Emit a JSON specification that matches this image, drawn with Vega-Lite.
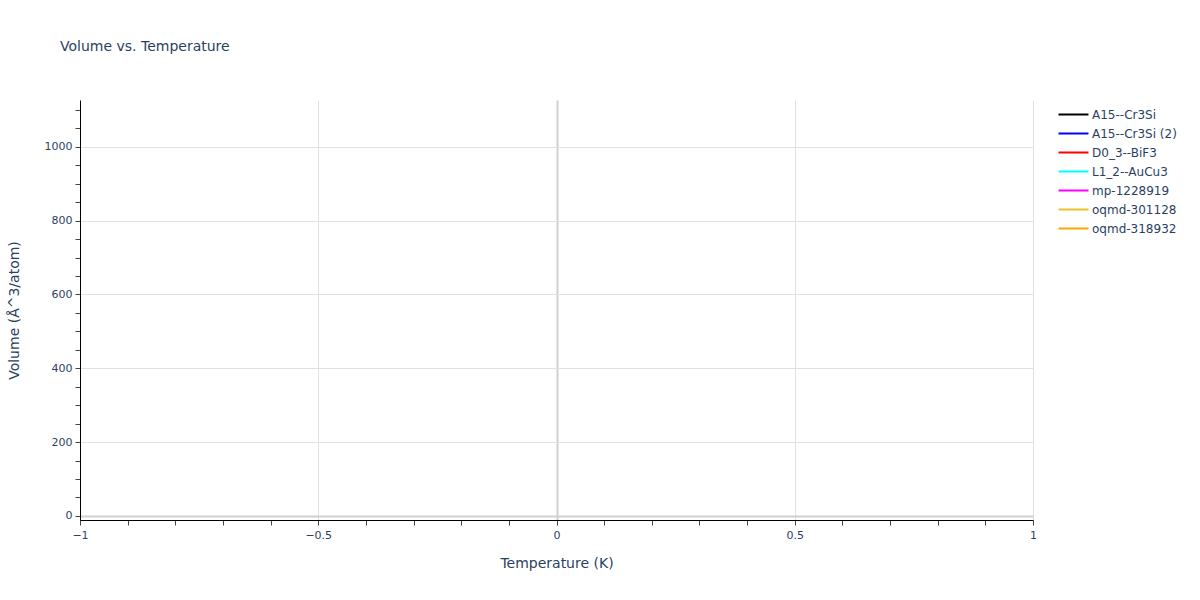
{
  "$schema": "https://vega.github.io/schema/vega-lite/v6.json",
  "width": 953,
  "height": 420,
  "autosize": {"type": "none"},
  "padding": {"left": 80, "top": 100, "right": 167, "bottom": 80},
  "background": "white",
  "title": {
    "text": "Volume vs. Temperature",
    "anchor": "start",
    "frame": "group",
    "dx": -20,
    "offset": 46,
    "font": "DejaVu Sans",
    "fontSize": 14,
    "fontWeight": "normal",
    "color": "#2a3f5f"
  },
  "config": {
    "view": {"stroke": null},
    "font": "DejaVu Sans"
  },
  "data": {
    "values": [
      {"series": "A15--Cr3Si", "temperature": 0, "volume": 0},
      {"series": "A15--Cr3Si (2)", "temperature": 0, "volume": 0},
      {"series": "D0_3--BiF3", "temperature": 0, "volume": 0},
      {"series": "L1_2--AuCu3", "temperature": 0, "volume": 0},
      {"series": "mp-1228919", "temperature": 0, "volume": 0},
      {"series": "oqmd-301128", "temperature": 0, "volume": 0},
      {"series": "oqmd-318932", "temperature": 0, "volume": 0}
    ]
  },
  "mark": {"type": "line", "strokeWidth": 2, "clip": true},
  "encoding": {
    "x": {
      "field": "temperature",
      "type": "quantitative",
      "scale": {"domain": [-1, 1], "nice": false, "zero": false},
      "axis": {
        "title": "Temperature (K)",
        "values": [-1, -0.9, -0.8, -0.7, -0.6, -0.5, -0.4, -0.3, -0.2, -0.1, 0, 0.1, 0.2, 0.3, 0.4, 0.5, 0.6, 0.7, 0.8, 0.9, 1],
        "labelExpr": "abs(datum.value*2 - round(datum.value*2)) < 1e-6 ? replace(format(datum.value, ''), '-', '\u2212') : ''",
        "labelFlush": false,
        "labelOverlap": false,
        "labelFont": "DejaVu Sans",
        "labelFontSize": 11,
        "labelColor": "#2a3f5f",
        "labelPadding": 4,
        "titleFont": "DejaVu Sans",
        "titleFontSize": 14,
        "titleFontWeight": "normal",
        "titleColor": "#2a3f5f",
        "titlePadding": 16,
        "domainColor": "#000000",
        "domainWidth": 1,
        "tickColor": "#444444",
        "tickSize": 5,
        "grid": true,
        "gridColor": {"condition": {"test": "datum.value === 0", "value": "#d0d0d0"}, "value": "#e0e0e0"},
        "gridWidth": {"condition": {"test": "datum.value === 0", "value": 2}, "value": 1},
        "gridOpacity": {"condition": {"test": "abs(datum.value*2 - round(datum.value*2)) < 1e-6", "value": 1}, "value": 0}
      }
    },
    "y": {
      "field": "volume",
      "type": "quantitative",
      "scale": {"domain": [-11, 1127], "nice": false, "zero": false},
      "axis": {
        "title": "Volume (\u00c5^3/atom)",
        "values": [0, 50, 100, 150, 200, 250, 300, 350, 400, 450, 500, 550, 600, 650, 700, 750, 800, 850, 900, 950, 1000, 1050, 1100],
        "labelExpr": "datum.value % 200 === 0 ? format(datum.value, 'd') : ''",
        "labelOverlap": false,
        "labelFont": "DejaVu Sans",
        "labelFontSize": 11,
        "labelColor": "#2a3f5f",
        "labelPadding": 3,
        "titleFont": "DejaVu Sans",
        "titleFontSize": 14,
        "titleFontWeight": "normal",
        "titleColor": "#2a3f5f",
        "titlePadding": 23,
        "domainColor": "#000000",
        "domainWidth": 1,
        "tickColor": "#444444",
        "tickSize": 5,
        "grid": true,
        "gridColor": {"condition": {"test": "datum.value === 0", "value": "#d0d0d0"}, "value": "#e0e0e0"},
        "gridWidth": {"condition": {"test": "datum.value === 0", "value": 2}, "value": 1},
        "gridOpacity": {"condition": {"test": "datum.value % 200 === 0", "value": 1}, "value": 0}
      }
    },
    "color": {
      "field": "series",
      "type": "nominal",
      "scale": {
        "domain": ["A15--Cr3Si", "A15--Cr3Si (2)", "D0_3--BiF3", "L1_2--AuCu3", "mp-1228919", "oqmd-301128", "oqmd-318932"],
        "range": ["#000000", "#0000ff", "#ff0000", "#00ffff", "#ff00ff", "#ebc12a", "#ffa500"]
      },
      "legend": {
        "title": null,
        "orient": "none",
        "legendX": 985,
        "legendY": 6,
        "symbolType": "M-2,0H2",
        "symbolSize": 225,
        "symbolStrokeWidth": 2,
        "labelFont": "DejaVu Sans",
        "labelFontSize": 12,
        "labelColor": "#2a3f5f",
        "labelOffset": 10,
        "rowPadding": 4
      }
    }
  }
}
